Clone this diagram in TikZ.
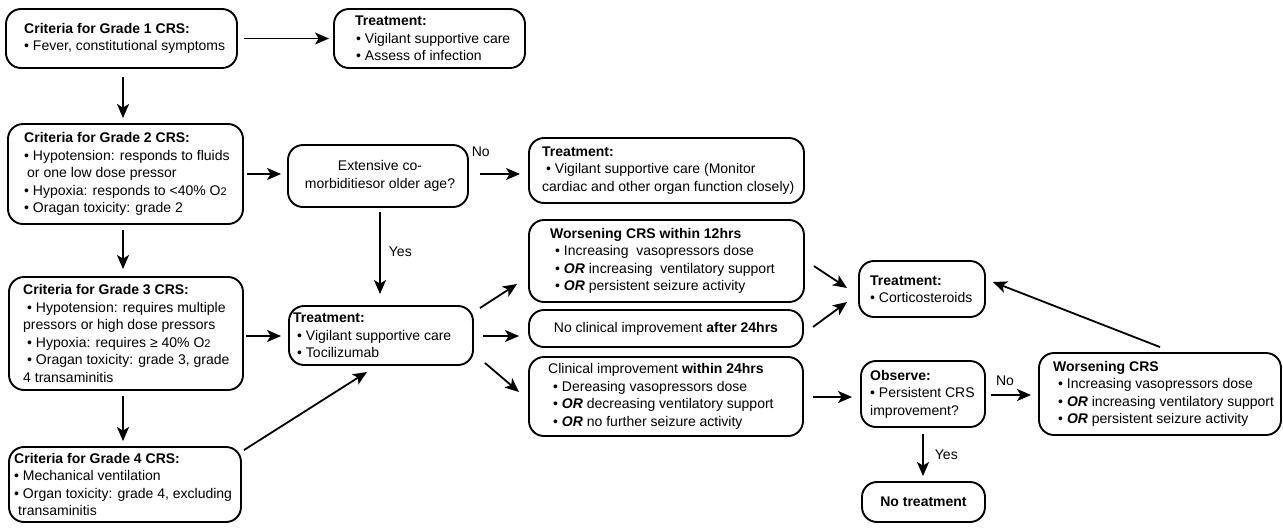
\documentclass[tikz,border=0pt]{standalone}
\usepackage{fontspec}
\setmainfont{Liberation Sans}
\usetikzlibrary{arrows.meta,calc}
\newcommand{\osub}{{\fontsize{11}{11}\selectfont 2}}
\newcommand{\ORb}{\textbf{\textit{OR}}}
\begin{document}
\begin{tikzpicture}[x=1pt,y=-1pt,
  box/.style={draw,line width=1.9pt,rounded corners=15pt,inner sep=0pt},
  txt/.style={inner sep=0pt,align=left,anchor=west,font=\fontsize{14}{17.5}\selectfont},
  ctxt/.style={inner sep=0pt,align=center,font=\fontsize{14}{17.5}\selectfont},
  arr/.style={line width=1.8pt,-{Stealth[length=14pt,width=12pt,inset=3.5pt]}},
  lbl/.style={inner sep=0pt,font=\fontsize{14}{17}\selectfont}]
\useasboundingbox (0,0) rectangle (1283,528);
% boxes
\node[box,minimum width=231,minimum height=59] (g1) at (121.5,38.5) {};
\node[box,minimum width=191,minimum height=59] (t1) at (429.5,38.5) {};
\node[box,minimum width=235,minimum height=100] (g2) at (125.5,174) {};
\node[box,minimum width=180,minimum height=62] (dec) at (378,176) {};
\node[box,minimum width=275,minimum height=65] (t2) at (666.5,170.5) {};
\node[box,minimum width=275,minimum height=82] (w12) at (666.5,261) {};
\node[box,minimum width=274,minimum height=37] (nc) at (666,328.5) {};
\node[box,minimum width=274,minimum height=79] (ci) at (666,396.5) {};
\node[box,minimum width=184,minimum height=59] (tt) at (381,335.5) {};
\node[box,minimum width=234,minimum height=113] (g3) at (126,333.5) {};
\node[box,minimum width=232,minimum height=75] (g4) at (125,484.5) {};
\node[box,minimum width=126,minimum height=56] (co) at (922,289) {};
\node[box,minimum width=124,minimum height=66] (ob) at (923,394) {};
\node[box,minimum width=242,minimum height=82] (wc) at (1160,394) {};
\node[box,minimum width=123,minimum height=40] (nt) at (923.5,502) {};
% texts
\node[txt] (g1t) at (24,38.5) {\textbf{Criteria for Grade 1 CRS:}\\• Fever, constitutional symptoms};
\node[txt] (t1t) at (355,38.5) {\textbf{Treatment:}\\\hspace*{1pt}• Vigilant supportive care\\\hspace*{1pt}• Assess of infection};
\node[txt] (g2t) at (24,174) {\textbf{Criteria for Grade 2 CRS:}\\• Hypotension: responds to fluids\\\hspace*{3pt}or one low dose pressor\\• Hypoxia: responds to <40\% O\osub\\• Oragan toxicity: grade 2};
\node[ctxt] (dect) at (380,176) {Extensive co-\\morbiditiesor older age?};
\node[txt] (t2t) at (542,170.5) {\textbf{Treatment:}\\\hspace*{4pt}• Vigilant supportive care (Monitor\\cardiac and other organ function closely)};
\node[txt] (w12t) at (550,261) {\textbf{Worsening CRS within 12hrs}\\\hspace*{5pt}• Increasing\ \ vasopressors dose\\\hspace*{5pt}• \ORb{} increasing\ \ ventilatory support\\\hspace*{5pt}• \ORb{} persistent seizure activity};
\node[ctxt] (nct) at (666,328.5) {No clinical improvement \textbf{after 24hrs}};
\node[txt] (cit) at (548,396.5) {Clinical improvement \textbf{within 24hrs}\\\hspace*{5pt}• Dereasing vasopressors dose\\\hspace*{5pt}• \ORb{} decreasing ventilatory support\\\hspace*{5pt}• \ORb{} no further seizure activity};
\node[txt] (ttt) at (293,335.5) {\textbf{Treatment:}\\\hspace*{4pt}• Vigilant supportive care\\\hspace*{4pt}• Tocilizumab};
\node[txt] (g3t) at (23,333.5) {\textbf{Criteria for Grade 3 CRS:}\\\hspace*{4pt}• Hypotension: requires multiple\\pressors or high dose pressors\\\hspace*{4pt}• Hypoxia: requires ≥ 40\% O\osub\\\hspace*{4pt}• Oragan toxicity: grade 3, grade\\4 transaminitis};
\node[txt] (g4t) at (14,484.5) {\textbf{Criteria for Grade 4 CRS:}\\• Mechanical ventilation\\• Organ toxicity: grade 4, excluding\\\hspace*{4pt}transaminitis};
\node[txt] (cot) at (870,289) {\textbf{Treatment:}\\• Corticosteroids};
\node[txt] (obt) at (870,394) {\textbf{Observe:}\\• Persistent CRS\\improvement?};
\node[txt] (wct) at (1053,394) {\textbf{Worsening CRS}\\\hspace*{5pt}• Increasing vasopressors dose\\\hspace*{5pt}• \ORb{} increasing ventilatory support\\\hspace*{5pt}• \ORb{} persistent seizure activity};
\node[ctxt] (ntt) at (923.5,502) {\textbf{No treatment}};
% arrows
\draw[arr,shorten <=6pt,shorten >=4pt] (g1.east) -- (t1.west);
\draw[arr,shorten <=8pt,shorten >=5pt] ($(g1.south)+(1.5,0)$) -- ($(g1.south |- g2.north)+(1.5,0)$);
\draw[arr,shorten <=3pt,shorten >=6pt] (g2.east) -- (g2.east -| dec.west);
\draw[arr,shorten <=11pt,shorten >=8pt] ($(dec.east)+(0,-2)$) -- ($(dec.east -| t2.west)+(0,-2)$) node[lbl,pos=0.2,above=16pt] (no1) {No};
\draw[arr,shorten <=4pt,shorten >=11pt] ($(dec.south)+(2,0)$) -- ($(dec.south |- tt.north)+(2,0)$) node[lbl,pos=0.45,right=8pt] (yes1) {Yes};
\draw[arr,shorten <=5pt,shorten >=7pt] ($(g2.south)+(-2.5,0)$) -- ($(g2.south |- g3.north)+(-2.5,0)$);
\draw[arr,shorten <=2pt,shorten >=7pt] ($(g3.east)+(0,2.5)$) -- ($(g3.east -| tt.west)+(0,2.5)$);
\draw[arr,shorten <=5pt,shorten >=5pt] ($(g3.south)+(-3,0)$) -- ($(g3.south |- g4.north)+(-3,0)$);
\draw[arr] ($(g4.north east)+(2,4)$) -- ($(tt.south)+(-14,6)$);
\draw[arr] ($(tt.north east)+(6,3)$) -- ($(w12.west)+(-11,23)$);
\draw[arr] ($(tt.east)+(9,0.5)$) -- ($(tt.east -| nc.west)+(-9,0.5)$);
\draw[arr] ($(tt.south east)+(11,-3)$) -- ($(ci.west)+(-9,-4.5)$);
\draw[arr] ($(w12.east)+(9,5)$) -- ($(co.west)+(-11,-1)$);
\draw[arr] ($(nc.east)+(9,-1.5)$) -- ($(co.west)+(-11,13)$);
\draw[arr] ($(wc.north)+(0,-5)$) -- ($(co.east)+(7,-7)$);
\draw[arr] ($(ci.east)+(9,0.5)$) -- ($(ci.east -| ob.west)+(-8,0.5)$);
\draw[arr] ($(ob.east)+(5,1)$) -- ($(ob.east -| wc.west)+(-7,1)$) node[lbl,pos=0.35,above=8pt] (no2) {No};
\draw[arr,shorten <=6pt,shorten >=5pt] (ob.south) -- (ob.south |- nt.north) node[lbl,midway,right=11pt] (yes2) {Yes};
\end{tikzpicture}
\end{document}
